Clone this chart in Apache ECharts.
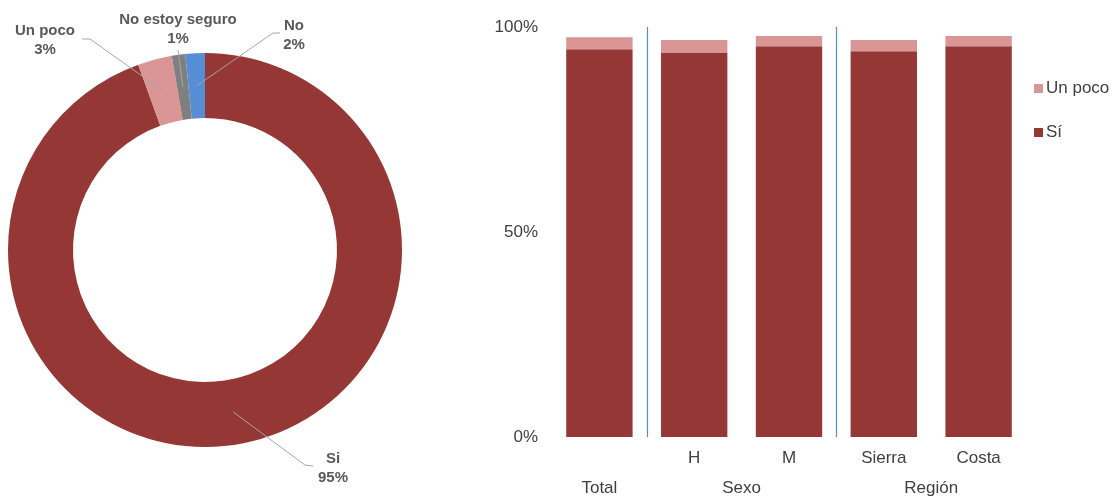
<!DOCTYPE html>
<html><head><meta charset="utf-8">
<script src="https://cdn.jsdelivr.net/npm/echarts@6/dist/echarts.min.js"></script>
<style>html,body{margin:0;padding:0;background:#fff}#c{width:1115px;height:498px}</style>
</head><body><div id="c"></div>
<script>
// Donut data
const pieNames = ['Si', 'Un poco', 'No estoy seguro', 'No'];
const pieValues = [94.5, 2.8, 1.1, 1.6];
const pieColors = ['#953735', '#D99694', '#7F7F7F', '#558ED5'];

// Bar data
const categories = ['Total', 'H', 'M', 'Sierra', 'Costa'];
const siValues = [94.6, 93.8, 95.3, 94.1, 95.3];
const unPocoValues = [2.9, 3.0, 2.5, 2.7, 2.5];
const groupLabels = ['Total', 'Sexo', 'Región'];
const groupPositions = [0.5, 2, 4];
const separators = [1, 3];
const yTicks = ['0%', '50%', '100%'];

const chart = echarts.init(document.getElementById('c'), null, {renderer: 'canvas'});
const FONT = 'Liberation Sans, Arial, sans-serif';
const txt = '#595959';
const dark = '#404040';

const PIE_C = [205, 250], PIE_R = [132, 197];
// label centre, and knee / end offsets of leader line relative to that centre
const labelSpots = {
  'Si': {c: [333, 468], knee: [-28, -3], end: [-20, -2]},
  'Un poco': {c: [45, 40], knee: [45, -1], end: [37, -1]},
  'No estoy seguro': {c: [178, 29], knee: [0, 21], end: [0, 21]},
  'No': {c: [294, 35], knee: [-21, -2], end: [-14, -2]}
};
const pieTotal = pieValues.reduce((a, b) => a + b, 0);
function midPoint(i) {
  let cum = 0;
  for (let k = 0; k < i; k++) cum += pieValues[k];
  const f = (cum + pieValues[i] / 2) / pieTotal;
  const a = (90 - f * 360) * Math.PI / 180;
  const r = (PIE_R[0] + PIE_R[1]) / 2;
  return [PIE_C[0] + r * Math.cos(a), PIE_C[1] - r * Math.sin(a)];
}
const pieData = (fill) => pieNames.map((n, i) => ({
  name: n, value: pieValues[i], itemStyle: {color: fill ? pieColors[i] : 'rgba(0,0,0,0)'}
}));

chart.setOption({
  animation: false,
  textStyle: {fontFamily: FONT},
  legend: {
    orient: 'vertical', left: 1029, top: 75, itemGap: 27,
    itemWidth: 9, itemHeight: 9, icon: 'rect',
    data: ['Un poco', 'Sí'],
    textStyle: {fontSize: 17, color: dark, fontFamily: FONT, padding: [0, 0, 0, -2]}
  },
  grid: {left: 552, right: 89, top: 27, bottom: 61, containLabel: false},
  xAxis: [{
    type: 'category', data: categories, position: 'bottom',
    axisLine: {show: false}, axisTick: {show: false}, splitLine: {show: false},
    axisLabel: {
      fontSize: 17, color: dark, margin: 13,
      formatter: (v, i) => i === 0 ? '' : v
    }
  }, {
    type: 'value', min: 0, max: 5, position: 'bottom',
    axisLine: {show: false}, axisTick: {show: false}, splitLine: {show: false},
    axisLabel: {
      fontSize: 17, color: dark, margin: 43,
      customValues: groupPositions,
      formatter: (v) => groupLabels[groupPositions.indexOf(v)]
    }
  }],
  yAxis: {
    type: 'value', min: 0, max: 100, interval: 50,
    axisLine: {show: false}, axisTick: {show: false}, splitLine: {show: false},
    axisLabel: {fontSize: 17, color: dark, margin: 14, formatter: (v) => yTicks[v / 50]}
  },
  series: [{
    type: 'pie', center: PIE_C, radius: PIE_R, z: 1,
    startAngle: 90, clockwise: true, silent: true,
    itemStyle: {borderWidth: 0},
    data: pieData(true),
    label: {show: false}, labelLine: {show: false}
  }, {
    type: 'pie', center: PIE_C, radius: PIE_R, z: 6,
    startAngle: 90, clockwise: true, avoidLabelOverlap: false, silent: true,
    itemStyle: {borderWidth: 0},
    data: pieData(false),
    label: {
      show: true, position: 'outside',
      formatter: (p) => p.name + '\n' + Math.round(p.percent) + '%',
      fontSize: 15, fontWeight: 'bold', color: txt, lineHeight: 19, align: 'center'
    },
    labelLine: {show: true, lineStyle: {color: '#a6a6a6', width: 1}},
    labelLayout: (p) => {
      const s = labelSpots[pieNames[p.dataIndex]];
      const m = midPoint(p.dataIndex);
      return {
        x: s.c[0], y: s.c[1], align: 'center', verticalAlign: 'middle',
        labelLinePoints: [m, [s.c[0] + s.knee[0], s.c[1] + s.knee[1]], [s.c[0] + s.end[0], s.c[1] + s.end[1]]]
      };
    }
  }, {
    name: 'Sí', type: 'bar', stack: 'a', barWidth: '70%',
    data: siValues, itemStyle: {color: '#953735'}
  }, {
    name: 'Un poco', type: 'bar', stack: 'a', barWidth: '70%',
    data: unPocoValues, itemStyle: {color: '#D99694'}
  }, {
    type: 'line', xAxisIndex: 1, data: [], silent: true,
    markLine: {
      symbol: 'none', silent: true, label: {show: false},
      lineStyle: {color: '#5a8ad0', width: 1.2, type: 'solid'},
      data: separators.map(v => ({xAxis: v}))
    }
  }]
});
</script></body></html>
